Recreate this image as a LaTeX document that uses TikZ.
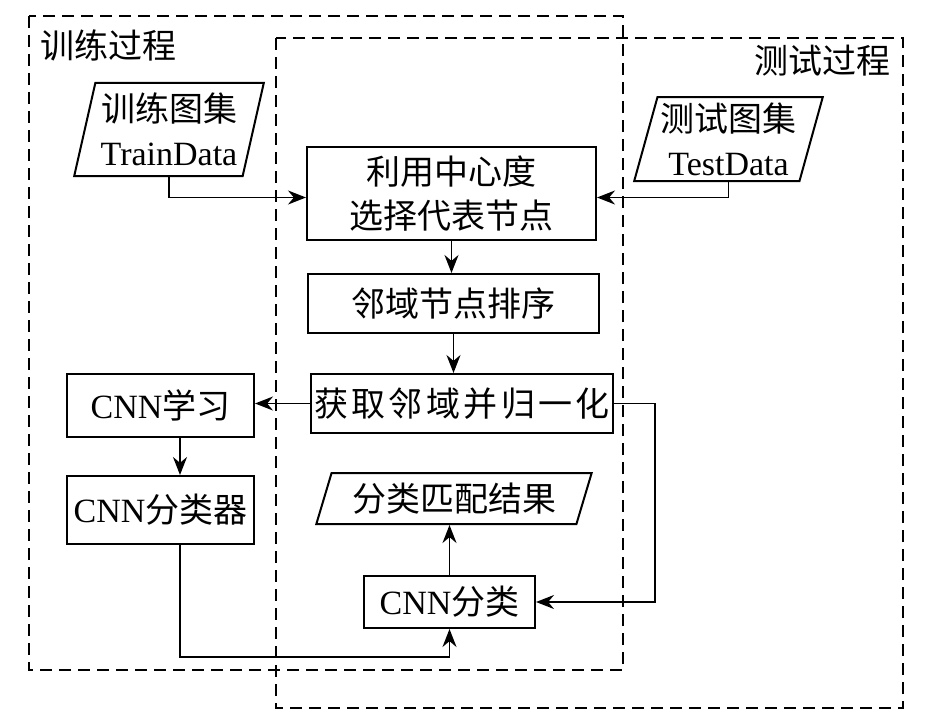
\documentclass[tikz,border=0pt]{standalone}
\usepackage{fontspec}
\setmainfont{Liberation Serif}
\newfontfamily\cjk{Noto Sans CJK SC}
\newfontfamily\cjkw[LetterSpace=10]{Noto Sans CJK SC}
\usetikzlibrary{arrows.meta,shapes.geometric,calc}
\begin{document}
\begin{tikzpicture}[x=1pt,y=-1pt,
  every node/.style={font=\fontsize{34}{44}\selectfont, inner sep=0pt},
  box/.style={draw, line width=2pt},
  para/.style={trapezium, trapezium stretches=true, draw, line width=2pt, align=center},
  region/.style={draw, line width=1.8pt, dash pattern=on 12pt off 7pt},
  arr/.style={-{Stealth[length=18pt,width=14pt]}, line width=1.7pt},
  conn/.style={line width=1.7pt}]
\useasboundingbox (0,0) rectangle (932,725);
% regions
\draw[region] (29,16) rectangle (623,670);
\draw[region] (276,38) rectangle (903,708);
\node (trainlbl) at (108,45) {\cjk 训练过程};
\node (testlbl) at (822,61) {\cjk 测试过程};
% inputs
\node[para, trapezium left angle=75, trapezium right angle=105,
      minimum width=190pt, minimum height=93pt] (train) at (169,129.5)
      {{\cjk 训练图集}\\TrainData};
\node[para, trapezium left angle=73, trapezium right angle=107,
      minimum width=189pt, minimum height=84pt] (test) at (728.5,139)
      {{\cjk 测试图集}\\TestData};
% main column
\node[box, minimum width=289pt, minimum height=93pt, align=center] (sel) at (451.5,193.5)
      {\cjk 利用中心度\\\cjk 选择代表节点};
\node[box, minimum width=291pt, minimum height=59pt] (sort) at (453.5,303.5)
      {\cjk 邻域节点排序};
\node[box, minimum width=302pt, minimum height=59pt] (norm) at (462,403.5)
      {\cjkw 获取邻域并归一化};
\node[box, minimum width=187pt, minimum height=63pt] (learn) at (160.5,405.5)
      {CNN{\cjk 学习}};
\node[box, minimum width=187pt, minimum height=68pt] (clf) at (160.5,510)
      {CNN{\cjk 分类器}};
\node[para, trapezium left angle=68, trapezium right angle=112,
      minimum width=276pt, minimum height=51pt] (res) at (454,498.5)
      {\cjk 分类匹配结果};
\node[box, minimum width=171pt, minimum height=52pt] (cls) at (449.5,602)
      {CNN{\cjk 分类}};
% connectors
\draw[arr] (train.south) |- ($(sel.west)+(0,4)$);
\draw[arr] (test.south) |- ($(sel.east)+(0,4)$);
\draw[arr] (sel.south) -- (sel.south |- sort.north);
\draw[arr] (sort.south) -- (sort.south |- norm.north);
\draw[arr] (norm.west) -- (norm.west -| learn.east);
\draw[arr] ($(learn.south)+(19.5,0)$) -- ($(clf.north)+(19.5,0)$);
\draw[arr] ($(clf.south)+(19.5,0)$) -- ++(0,112) -| (cls.south);
\draw[arr] (norm.east) -- ++(41,0) |- (cls.east);
\draw[arr] (cls.north) -- (cls.north |- res.south);
\end{tikzpicture}
\end{document}
